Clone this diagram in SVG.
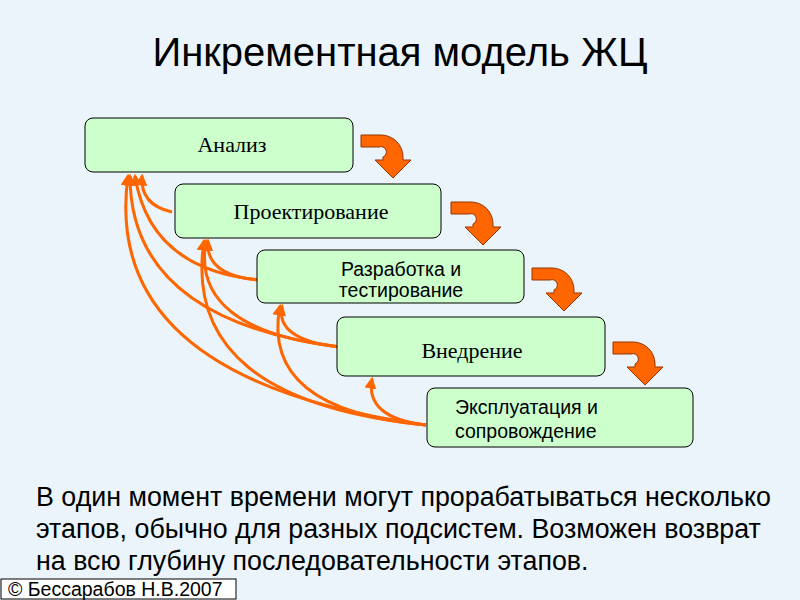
<svg xmlns="http://www.w3.org/2000/svg" width="800" height="600" viewBox="0 0 800 600">
<style>
.box{fill:#ccffcc;stroke:#000;stroke-width:1}
.ser{font-family:"Liberation Serif",serif;font-size:22px}
.san{font-family:"Liberation Sans",sans-serif;font-size:19.5px}
.fb{fill:none;stroke:#ff6600;stroke-width:3;marker-end:url(#ah)}
.bent{fill:#ff6600;stroke:#993300;stroke-width:1}
</style>
<defs>
<marker id="ah" viewBox="0 0 10 10" refX="8" refY="5" markerWidth="4" markerHeight="4" orient="auto" markerUnits="strokeWidth"><path d="M0,0L10,5L0,10z" fill="#ff6600"/></marker>
<path id="bend" d="M0,0H20A22,22 0 0 1 42,22V25H50L32,43L14,25H22V22A4,4 0 0 0 18,12H0Z"/>
</defs>
<rect width="800" height="600" fill="#eaf4fa"/>
<text x="400" y="66" text-anchor="middle" font-family="Liberation Sans,sans-serif" font-size="40">Инкрементная модель ЖЦ</text>
<g id="connectors">
<use href="#bend" x="361" y="135" class="bent"/>
<use href="#bend" x="451" y="202" class="bent"/>
<use href="#bend" x="532" y="268" class="bent"/>
<use href="#bend" x="613" y="342" class="bent"/>
<path class="fb" d="M172,212 Q140,205 142,176"/>
<path class="fb" d="M260,280 Q150,270 135,176"/>
<path class="fb" d="M258,280 Q205,275 208,241"/>
<path class="fb" d="M340,347 Q130,320 130,176"/>
<path class="fb" d="M340,347 Q190,330 206,241"/>
<path class="fb" d="M340,347 Q275,340 282,306"/>
<path class="fb" d="M426,425 Q100,380 128,176"/>
<path class="fb" d="M426,425 Q180,400 204,241"/>
<path class="fb" d="M426,425 Q260,410 280,306"/>
<path class="fb" d="M426,425 Q365,418 372,379"/>
</g>
<g id="n1"><rect class="box" x="85" y="118" width="268" height="54" rx="8"/><text class="ser" x="232" y="152" text-anchor="middle">Анализ</text></g>
<g id="n2"><rect class="box" x="175" y="184" width="266" height="54" rx="8"/><text class="ser" x="311" y="219" text-anchor="middle">Проектирование</text></g>
<g id="n3"><rect class="box" x="257" y="250" width="267" height="53" rx="8"/><text class="san" x="401" y="276" text-anchor="middle">Разработка и</text><text class="san" x="401" y="297" text-anchor="middle">тестирование</text></g>
<g id="n4"><rect class="box" x="337" y="317" width="268" height="59" rx="8"/><text class="ser" x="472" y="358" text-anchor="middle">Внедрение</text></g>
<g id="n5"><rect class="box" x="427" y="388" width="266" height="59" rx="8"/><text class="san" x="455" y="414">Эксплуатация и</text><text class="san" x="455" y="438">сопровождение</text></g>
<g font-family="Liberation Sans,sans-serif" font-size="26.8">
<text x="36" y="506">В один момент времени могут прорабатываться несколько</text>
<text x="36" y="538">этапов, обычно для разных подсистем. Возможен возврат</text>
<text x="36" y="570">на всю глубину последовательности этапов.</text>
</g>
<rect x="1" y="579" width="235" height="20" fill="#fff" stroke="#000"/>
<text x="8" y="596" font-family="Liberation Sans,sans-serif" font-size="19.5">© Бессарабов Н.В.2007</text>
</svg>
